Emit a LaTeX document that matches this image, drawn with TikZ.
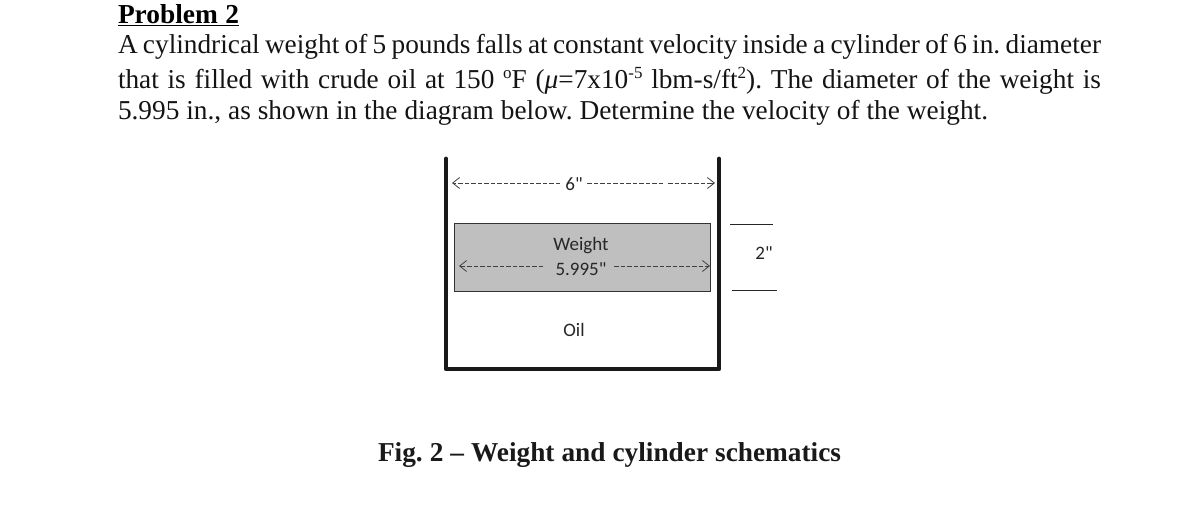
\documentclass[tikz,border=0pt]{standalone}
\usepackage{fontspec}
\usetikzlibrary{arrows.meta}
\setmainfont{Liberation Serif}
\newfontfamily\figfont{Carlito}
\newcommand{\supr}[1]{\raisebox{0.38em}{\fontsize{17}{17}\selectfont #1}}
\newcommand{\fitline}[2]{\makebox[#1][s]{\frenchspacing\spaceskip=0.2em plus 1fil minus 0.1em #2}}
\tikzset{
  x=1pt,y=-1pt,
  every node/.style={inner sep=0pt,outer sep=0pt},
  bodytext/.style={anchor=base west,font=\fontsize{27.3}{30}\selectfont,text=black!92},
  headtext/.style={anchor=base west,font=\fontsize{27.4}{30}\selectfont\bfseries,text=black},
  captext/.style={anchor=base west,font=\fontsize{27.3}{30}\selectfont\bfseries,text=black!90},
  figtext/.style={anchor=center,font=\figfont\fontsize{19}{22}\selectfont,text=black!85},
  wall/.style={line width=4.8pt,line cap=round,line join=round,draw=black!90},
  dimdash/.style={line width=0.7pt,draw=black!75,dash pattern=on 4.5pt off 2pt},
  dimtip/.style={-{Straight Barb[length=7pt,width=11pt,line width=0.8pt]},line width=0.7pt,draw=black!75},
  rimline/.style={line width=1pt,draw=black!85},
  weightbox/.style={draw=black!80,line width=0.9pt,fill=black!25,minimum width=256pt,minimum height=68pt,anchor=north west},
}
\begin{document}
\begin{tikzpicture}
\useasboundingbox (0,0) rectangle (1179,510);
\fill[white] (0,0) rectangle (1179,510);
% text
\node[headtext] (title) at (118,23.5) {\fitline{121pt}{Problem 2}};
\coordinate (ul1) at (118,25.5);
\coordinate (ul2) at (239,25.5);
\draw[line width=1.3pt] (ul1) -- (ul2);
\node[bodytext] (l1) at (118,53.7) {\fitline{983pt}{A cylindrical weight of 5 pounds falls at constant velocity inside a cylinder of 6 in. diameter}};
\node[bodytext] (l2) at (118,88.5) {\fitline{983pt}{that is filled with crude oil at 150 \supr{o}F (\textit{μ}=7x10\supr{-5} lbm-s/ft\supr{2}). The diameter of the weight is}};
\node[bodytext] (l3) at (118,119.5) {\fitline{870pt}{5.995 in., as shown in the diagram below. Determine the velocity of the weight.}};
\node[captext] (cap) at (378,461.7) {\fitline{463pt}{Fig. 2 – Weight and cylinder schematics}};
% cylinder
\coordinate (wl) at (446,159);
\coordinate (wbl) at (446,369);
\coordinate (wbr) at (719,369);
\coordinate (wr) at (719,159);
\draw[wall] (wl) -- (wbl) -- (wbr) -- (wr);
% weight
\node[weightbox] (w) at (454,223) {};
% labels
\node[figtext] (six) at (574,184) {6"};
\node[figtext] (wt) at (581,246) {Weight};
\node[figtext] (five) at (581,269) {5.995"};
\node[figtext] (oil) at (574,329.5) {Oil};
\node[figtext] (two) at (764,253) {2"};
% 6 inch arrows
\coordinate (a1) at (452,183);
\coordinate (a1b) at (455,183);
\coordinate (a2) at (560,183);
\coordinate (a3) at (587,183);
\coordinate (a4) at (663,183);
\coordinate (a5) at (668,183);
\coordinate (a6b) at (712,183);
\coordinate (a6) at (715,183);
\draw[dimdash] (a2) -- (a1b);
\draw[dimtip] (a1b) -- (a1);
\draw[dimdash] (a3) -- (a4);
\draw[dimdash] (a5) -- (a6b);
\draw[dimtip] (a6b) -- (a6);
% 5.995 arrows
\coordinate (b1) at (459,266);
\coordinate (b1b) at (462,266);
\coordinate (b2) at (543,266);
\coordinate (b3) at (614,266);
\coordinate (b4b) at (707,266);
\coordinate (b4) at (710,266);
\draw[dimdash] (b2) -- (b1b);
\draw[dimtip] (b1b) -- (b1);
\draw[dimdash] (b3) -- (b4b);
\draw[dimtip] (b4b) -- (b4);
% 2 inch rules
\coordinate (r1) at (730,225);
\coordinate (r2) at (773,225);
\coordinate (r3) at (732,291);
\coordinate (r4) at (777,291);
\draw[rimline] (r1) -- (r2);
\draw[rimline] (r3) -- (r4);
\end{tikzpicture}
\end{document}
